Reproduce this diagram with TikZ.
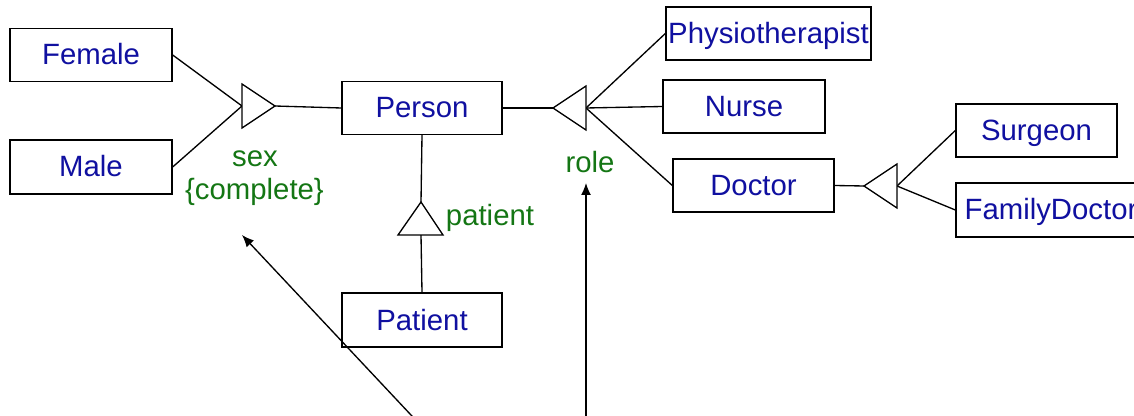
\documentclass[tikz,border=0pt]{standalone}
\usepackage{fontspec}
\setmainfont{Liberation Sans}
\usetikzlibrary{arrows.meta}
\definecolor{clsblue}{RGB}{16,16,160}
\definecolor{lblgreen}{RGB}{20,118,20}
\begin{document}
\begin{tikzpicture}[x=0.75pt,y=-0.75pt,
  cls/.style={draw, line width=1pt, fill=white, text=clsblue,
    font=\fontsize{22}{26}\selectfont, minimum width=121.5pt,
    minimum height=39.75pt, inner sep=0pt, text height=18pt, text depth=3pt},
  lbl/.style={text=lblgreen, font=\fontsize{22}{26}\selectfont,
    inner sep=0pt, anchor=base},
  link/.style={line width=1pt},
  gen/.style={draw, line width=1pt, fill=white, line join=miter},
  note/.style={line width=1pt, -{Latex[length=9pt,width=7.5pt]}}
]
\useasboundingbox (0,0) rectangle (1134,416);
\clip (0,0) rectangle (1134,416);

% classes
\node[cls] (Female) at (91,55) {Female};
\node[cls, minimum height=40.5pt] (Male) at (91,167) {Male};
\node[cls, minimum width=120pt] (Person) at (422,108) {Person};
\node[cls, minimum width=120pt, minimum height=40.5pt] (Patient) at (422,320) {Patient};
\node[cls, minimum width=153.75pt] (Physio) at (768.5,33.5) {Physiotherapist};
\node[cls] (Nurse) at (744,106.5) {Nurse};
\node[cls, minimum width=120.75pt] (Doctor) at (753.5,185.5) {Doctor};
\node[cls, minimum width=120.75pt] (Surgeon) at (1036.5,130.5) {Surgeon};
\node[cls, minimum width=142.5pt, minimum height=40.5pt] (FamDoc) at (1051,210) {FamilyDoctor};

% generalisation triangles: apex and base midpoint
\coordinate (sexA) at (275,106);   \coordinate (sexB) at (242,106);
\coordinate (patA) at (421,202);   \coordinate (patB) at (421,235);
\coordinate (roleA) at (553,108);  \coordinate (roleB) at (586,108);
\coordinate (docA) at (864,186);   \coordinate (docB) at (897,186);

% sex
\draw[link] (Female.east) -- (sexB);
\draw[link] (Male.east) -- (sexB);
\draw[link] (sexA) -- (Person.west);
\draw[gen] (242,84) -- (sexA) -- (242,128) -- cycle;

% patient
\draw[link] (Person.south) -- (patA);
\draw[link] (patB) -- (Patient.north);
\draw[gen] (398,235) -- (patA) -- (443,235) -- cycle;

% role
\draw[link] (Person.east) -- (roleA);
\draw[link] (roleB) -- (Physio.west);
\draw[link] (roleB) -- (Nurse.west);
\draw[link] (roleB) -- (Doctor.west);
\draw[gen] (586,86) -- (roleA) -- (586,130) -- cycle;

% doctor kinds
\draw[link] (Doctor.east) -- (docA);
\draw[link] (docB) -- (Surgeon.west);
\draw[link] (docB) -- (FamDoc.west);
\draw[gen] (897,164) -- (docA) -- (897,208) -- cycle;

% labels
\node[lbl] (sexL) at (255,167) {sex};
\node[lbl] (complL) at (254.5,200) {\{complete\}};
\node[lbl] (patL) at (490,226) {patient};
\node[lbl] (roleL) at (590,173) {role};

% pointers
\coordinate (p1s) at (426,431);
\coordinate (p1e) at (242,235);
\coordinate (p2s) at (586,431);
\coordinate (p2e) at (586,183);
\draw[note] (p1s) -- (p1e);
\draw[note] (p2s) -- (p2e);
\end{tikzpicture}
\end{document}
